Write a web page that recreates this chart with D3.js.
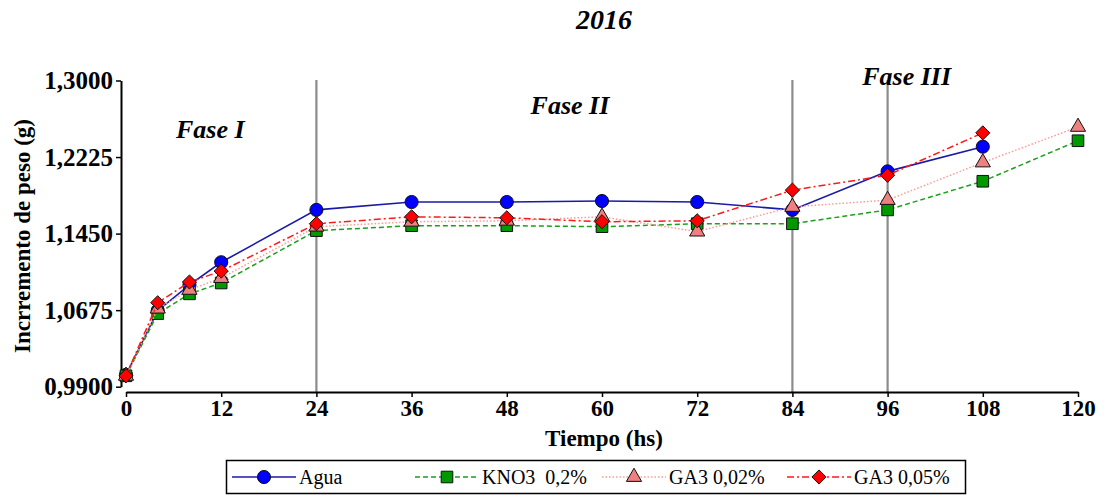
<!DOCTYPE html>
<html>
<head>
<meta charset="utf-8">
<script src="https://cdn.jsdelivr.net/npm/d3@7"></script>
<style>
  html, body { margin: 0; padding: 0; background: #fff; }
  svg text { font-family: "Liberation Serif", "Times New Roman", serif; }
</style>
</head>
<body>
<svg id="chart" width="1107" height="497"></svg>
<script>
// Time points (hours)
const hours = [0, 4, 8, 12, 24, 36, 48, 60, 72, 84, 96, 108, 120];

// Weight increment (g) per treatment; null = not measured
const agua    = [1.002, 1.067, 1.093, 1.116, 1.169, 1.177, 1.177, 1.178, 1.177, 1.169, 1.208, 1.233, null];
const kno3    = [1.001, 1.064, 1.084, 1.095, 1.148, 1.153, 1.153, 1.152, 1.155, 1.155, 1.169, 1.198, 1.239];
const ga3_002 = [1.001, 1.069, 1.088, 1.100, 1.152, 1.157, 1.158, 1.162, 1.147, 1.172, 1.179, 1.217, 1.253];
const ga3_005 = [1.001, 1.075, 1.096, 1.107, 1.155, 1.162, 1.161, 1.157, 1.158, 1.189, 1.204, 1.247, null];

const seriesNames = ["Agua", "KNO3  0,2%", "GA3 0,02%", "GA3 0,05%"];
const xTicks = [0, 12, 24, 36, 48, 60, 72, 84, 96, 108, 120];
const yTicks = [0.99, 1.0675, 1.145, 1.2225, 1.30];
const phaseLines = [24, 84, 96];
const phaseLabels = ["Fase I", "Fase II", "Fase III"];
// label anchor (hours, grams) for each phase name
const phaseLabelPos = [[6.3, 1.2418], [51.0, 1.2661], [92.8, 1.2954]];

const svg = d3.select("#chart");
const x = d3.scaleLinear().domain([0, 120]).range([126, 1078]);
const y = d3.scaleLinear().domain([0.99, 1.30]).range([386.7, 80.5]);

const bold = "bold";

// Title
svg.append("text").attr("x", 604).attr("y", 29).attr("text-anchor", "middle")
  .attr("font-size", 28).attr("font-weight", bold).attr("font-style", "italic").text("2016");

// Phase divider lines
svg.selectAll("line.phase").data(phaseLines).join("line")
  .attr("class", "phase")
  .attr("x1", d => x(d)).attr("x2", d => x(d))
  .attr("y1", 80).attr("y2", 392)
  .attr("stroke", "#8c8c8c").attr("stroke-width", 2.2);

// Phase labels
svg.selectAll("text.phase").data(phaseLabels).join("text")
  .attr("class", "phase")
  .attr("x", (d, i) => x(phaseLabelPos[i][0]))
  .attr("y", (d, i) => y(phaseLabelPos[i][1]))
  .attr("font-size", 26).attr("font-weight", bold).attr("font-style", "italic")
  .text(d => d);

// X axis
const xAxis = svg.append("g").attr("transform", "translate(0,392)")
  .call(d3.axisBottom(x).tickValues(xTicks).tickSize(5).tickSizeOuter(0).tickPadding(3));
xAxis.select(".domain").attr("stroke", "#000").attr("stroke-width", 2);
xAxis.selectAll(".tick line").attr("stroke", "#000").attr("stroke-width", 1.5);
xAxis.selectAll(".tick text").attr("font-size", 23).attr("font-weight", bold)
  .attr("font-family", "Liberation Serif, serif").attr("fill", "#000");

// Y axis
const fmt = d => d.toFixed(4).replace(".", ",");
const yAxis = svg.append("g").attr("transform", "translate(121,0)")
  .call(d3.axisLeft(y).tickValues(yTicks).tickFormat(fmt).tickSize(5).tickSizeOuter(0).tickPadding(3));
yAxis.select(".domain").attr("stroke", "#000").attr("stroke-width", 2);
yAxis.selectAll(".tick line").attr("stroke", "#000").attr("stroke-width", 1.5);
yAxis.selectAll(".tick text").attr("font-size", 25).attr("font-weight", bold)
  .attr("font-family", "Liberation Serif, serif").attr("fill", "#000");

// Axis titles
svg.append("text").attr("x", 604).attr("y", 446).attr("text-anchor", "middle")
  .attr("font-size", 23).attr("font-weight", bold).text("Tiempo (hs)");
svg.append("text").attr("transform", "translate(30,236) rotate(-90)").attr("text-anchor", "middle")
  .attr("font-size", 23).attr("font-weight", bold).text("Incrremento de peso (g)");

// Series styling
const diamond = { draw(ctx, size) { const r = Math.sqrt(size / 2); ctx.moveTo(0, -r); ctx.lineTo(r, 0); ctx.lineTo(0, r); ctx.lineTo(-r, 0); ctx.closePath(); } };
const styles = [
  { values: agua,    stroke: "#1a1aa8", dash: null,      width: 1.6, fill: "#0000ff", shape: d3.symbolCircle,   size: 135 },
  { values: kno3,    stroke: "#1aa01a", dash: "5,3",     width: 1.5, fill: "#009900", shape: d3.symbolSquare,   size: 135 },
  { values: ga3_002, stroke: "#ff9a9a", dash: "1.5,2",   width: 1.5, fill: "#f08080", shape: d3.symbolTriangle, size: 100 },
  { values: ga3_005, stroke: "#ff1a1a", dash: "7,3,2,3", width: 1.5, fill: "#ff0000", shape: diamond,          size: 100 }
];

const line = d3.line()
  .defined(d => d.v !== null)
  .x(d => x(d.t)).y(d => y(d.v));

styles.forEach(s => {
  const pts = hours.map((t, i) => ({ t, v: s.values[i] })).filter(d => d.v !== null);
  const g = svg.append("g");
  g.append("path").datum(pts).attr("d", line)
    .attr("fill", "none").attr("stroke", s.stroke).attr("stroke-width", s.width)
    .attr("stroke-dasharray", s.dash);
  g.selectAll("path.pt").data(pts).join("path").attr("class", "pt")
    .attr("transform", d => `translate(${x(d.t)},${y(d.v)})`)
    .attr("d", d3.symbol(s.shape, s.size))
    .attr("fill", s.fill).attr("stroke", "#111").attr("stroke-width", 1);
});

// Legend
const legend = svg.append("g");
legend.append("rect").attr("x", 226.5).attr("y", 460.5).attr("width", 739).attr("height", 33)
  .attr("fill", "#fff").attr("stroke", "#000").attr("stroke-width", 1.5);
const legendX = [232, 415, 602, 787];
styles.forEach((s, i) => {
  const lx = legendX[i];
  const gi = legend.append("g").attr("transform", `translate(${lx},477)`);
  gi.append("line").attr("x1", 0).attr("x2", 64).attr("y1", 0).attr("y2", 0)
    .attr("stroke", s.stroke).attr("stroke-width", s.width).attr("stroke-dasharray", s.dash);
  gi.append("path").attr("transform", "translate(32,0)")
    .attr("d", d3.symbol(s.shape, s.size)).attr("fill", s.fill).attr("stroke", "#111").attr("stroke-width", 1);
  gi.append("text").attr("x", 67).attr("y", 7).attr("font-size", 20)
    .attr("xml:space", "preserve").style("white-space", "pre").text(seriesNames[i]);
});
</script>
</body>
</html>
